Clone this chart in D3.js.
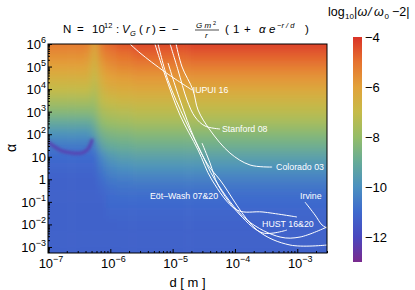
<!DOCTYPE html>
<html>
<head>
<meta charset="utf-8">
<script src="https://cdn.jsdelivr.net/npm/d3@7"></script>
<style>
  body { margin: 0; background: #fff; }
  text { font-family: "Liberation Sans", Arial, sans-serif; }
</style>
</head>
<body>
<svg id="chart" width="415" height="290"></svg>
<script>
// heat map: log10|w/w0 - 2|
// columns are log10 d, rows are log10 alpha
var gridLogD = [-7, -6.75, -6.5, -6.35, -6.25, -6.15, -6.0, -5.8, -5.5, -4.0];
var gridLogAlpha = [6.5, 6, 5.5, 5, 4.5, 4, 3.5, 3, 2.5, 2, 1.5, 1, 0.5, 0, -0.5, -1, -1.5, -2, -2.5, -3, -3.5];
var gridValues = [
  [-4.9, -4.9, -4.9, -5.0, -6.0, -4.8, -4.5, -4.2, -4.0, -3.9],
  [-5.2, -5.2, -5.2, -5.3, -6.2, -5.1, -4.8, -4.5, -4.3, -4.2],
  [-5.6, -5.6, -5.6, -5.7, -6.5, -5.5, -5.2, -5.0, -4.8, -4.7],
  [-6.0, -6.0, -6.0, -6.1, -6.8, -5.9, -5.6, -5.4, -5.3, -5.2],
  [-6.5, -6.5, -6.5, -6.5, -7.1, -6.3, -6.0, -5.9, -5.8, -5.7],
  [-7.0, -7.0, -7.0, -7.0, -7.4, -6.7, -6.4, -6.3, -6.2, -6.2],
  [-7.6, -7.6, -7.6, -7.6, -7.8, -7.1, -6.9, -6.8, -6.7, -6.7],
  [-8.3, -8.3, -8.3, -8.3, -8.2, -7.6, -7.4, -7.3, -7.2, -7.2],
  [-9.1, -9.1, -9.1, -9.1, -8.8, -8.1, -7.9, -7.8, -7.7, -7.7],
  [-9.9, -9.9, -9.9, -9.9, -9.4, -8.7, -8.5, -8.4, -8.3, -8.3],
  [-10.6, -10.6, -10.6, -10.6, -10.5, -9.3, -9.0, -8.9, -8.8, -8.8],
  [-11.0, -11.0, -11.0, -11.0, -11.0, -10.2, -9.7, -9.5, -9.4, -9.4],
  [-11.1, -11.1, -11.1, -11.1, -11.1, -10.6, -10.2, -10.0, -9.9, -9.9],
  [-11.2, -11.2, -11.2, -11.2, -11.2, -10.9, -10.6, -10.5, -10.4, -10.4],
  [-11.2, -11.2, -11.2, -11.2, -11.2, -11.1, -10.9, -10.8, -10.8, -10.8],
  [-11.2, -11.2, -11.2, -11.2, -11.2, -11.2, -11.0, -11.0, -11.0, -11.0],
  [-11.2, -11.2, -11.2, -11.2, -11.2, -11.2, -11.1, -11.1, -11.1, -11.1],
  [-11.2, -11.2, -11.2, -11.2, -11.2, -11.2, -11.2, -11.15, -11.15, -11.15],
  [-11.2, -11.2, -11.2, -11.2, -11.2, -11.2, -11.2, -11.2, -11.2, -11.2],
  [-11.2, -11.2, -11.2, -11.2, -11.2, -11.2, -11.2, -11.2, -11.2, -11.2],
  [-11.2, -11.2, -11.2, -11.2, -11.2, -11.2, -11.2, -11.2, -11.2, -11.2]
];

// the narrow purple dip on the left (d, alpha), value along it
var dipCurve = [[1.0e-7, 44.7], [1.29e-7, 27], [1.68e-7, 18], [2.43e-7, 14.7], [3.51e-7, 14.7], [4.39e-7, 22], [5.08e-7, 55]];
var dipValue = -12.3;

// experimental bounds, (d [m], alpha)
var iupui16 = [[2.07e-6, 1e6], [3.0e-6, 4.0e5], [7.55e-6, 5.7e4], [2.05e-5, 9.1e3]];
var eotWash07 = [[5.2e-6, 1e6], [7.55e-6, 4.2e4], [1.31e-5, 710], [2.56e-5, 19.9], [4.28e-5, 0.93], [1.08e-4, 0.0435], [2.82e-4, 0.0355], [9.9e-4, 0.0213]];
var eotWash20 = [[5.83e-6, 1e6], [8.43e-6, 2.5e4], [1.58e-5, 427], [2.75e-5, 19.9], [4.8e-5, 0.93], [1.56e-4, 0.0157], [5.3e-4, 2.76e-3], [1.11e-3, 2.76e-3], [3.0e-3, 7.7e-3]];
var hust16 = [[8.43e-6, 1.44e5], [1.31e-5, 3290], [2.29e-5, 55], [3.7e-5, 4.3], [5.77e-5, 0.93], [2.26e-4, 5.65e-3], [7.65e-4, 1.22e-3], [3.0e-3, 1.22e-3]];
var hust20 = [[2.96e-5, 40.7], [3.98e-5, 5.3], [5.36e-5, 0.56], [1.21e-4, 0.0261], [2.82e-4, 4.16e-3], [6.85e-4, 5.65e-3]];
var stanford08 = [[9.1e-6, 1e6], [1.22e-5, 7.0e4], [1.70e-5, 3290], [2.29e-5, 580], [3.31e-5, 231], [5.77e-5, 170]];
var colorado03 = [[1.135e-5, 1e6], [1.42e-5, 9.5e4], [2.12e-5, 9.1e3], [2.56e-5, 1180], [3.98e-5, 153], [8.3e-5, 14.7], [1.75e-4, 4.3], [3.95e-4, 3.5]];
var irvine = [[1.33e-3, 0.098], [1.93e-3, 0.026], [2.5e-3, 9.4e-3], [3.0e-3, 6.9e-3]];
var bounds = [iupui16, eotWash07, eotWash20, hust16, hust20, stanford08, colorado03, irvine];

// curve labels, left end of baseline (d, alpha)
var labelTexts = ["IUPUI 16", "Stanford 08", "Colorado 03", "Eöt\u2013Wash 07&20", "Irvine", "HUST 16&20"];
var labelSpots = [[2.1e-5, 6.7e3], [6.2e-5, 125], [4.57e-4, 2.6], [4.33e-6, 0.134], [1.11e-3, 0.134], [2.72e-4, 7.7e-3]];

// axes
var xTicks = [1e-7, 1e-6, 1e-5, 1e-4, 1e-3];
var xTickExp = ["\u22127", "\u22126", "\u22125", "\u22124", "\u22123"];
var yTicks = [1e6, 1e5, 1e4, 1e3, 1e2, 10, 1, 0.1, 0.01, 0.001];
var yTickBase = ["10", "10", "10", "10", "10", "10", "1", "10", "10", "10"];
var yTickExp = ["6", "5", "4", "3", "2", "", "", "\u22121", "\u22122", "\u22123"];

// colour bar
var colorDomain = [-13, -12, -11, -10, -9, -8, -7, -6, -5, -4];
var colorRange = ["#7a2a8e", "#4a48bf", "#3e69cd", "#4b90c0", "#66ab98", "#95bd68", "#c6bb48", "#e2a23a", "#e6722f", "#da3328"];
var barTicks = [-4, -6, -8, -10, -12];

var svg = d3.select("#chart");
var plotL = 48, plotR = 327, plotT = 44, plotB = 253;

var x = d3.scaleLog().domain([1e-7, 3e-3]).range([plotL, plotR]);
var y = d3.scaleLog().domain([5.4e-4, 1e6]).range([plotB, plotT]);
var color = d3.scaleLinear().domain(colorDomain).range(colorRange).clamp(true);

var defs = svg.append("defs");
defs.append("clipPath").attr("id", "plotclip")
  .append("rect").attr("x", plotL).attr("y", plotT).attr("width", plotR - plotL).attr("height", plotB - plotT);
var blur = defs.append("filter").attr("id", "smooth")
  .attr("x", "-10%").attr("y", "-10%").attr("width", "120%").attr("height", "120%");
blur.append("feGaussianBlur").attr("stdDeviation", "3 5");
var blurDip = defs.append("filter").attr("id", "soft")
  .attr("x", "-20%").attr("y", "-50%").attr("width", "140%").attr("height", "200%");
blurDip.append("feGaussianBlur").attr("stdDeviation", "1.4");

// cells
var cells = [];
gridValues.forEach(function (row, i) {
  row.forEach(function (v, j) {
    var d0 = j === 0 ? -7.6 : (gridLogD[j - 1] + gridLogD[j]) / 2;
    var d1 = j === row.length - 1 ? -2 : (gridLogD[j] + gridLogD[j + 1]) / 2;
    var a0 = i === 0 ? 7.5 : gridLogAlpha[i] + 0.25;
    var a1 = i === gridValues.length - 1 ? -4.5 : gridLogAlpha[i] - 0.25;
    cells.push({ d0: Math.pow(10, d0), d1: Math.pow(10, d1), a0: Math.pow(10, a0), a1: Math.pow(10, a1), v: v });
  });
});

var plot = svg.append("g").attr("clip-path", "url(#plotclip)");
plot.append("g").attr("filter", "url(#smooth)")
  .selectAll("rect")
  .data(cells)
  .enter()
  .append("rect")
  .attr("x", function (d) { return x(d.d0); })
  .attr("y", function (d) { return y(d.a0); })
  .attr("width", function (d) { return x(d.d1) - x(d.d0) + 0.5; })
  .attr("height", function (d) { return y(d.a1) - y(d.a0) + 0.5; })
  .style("fill", function (d) { return color(d.v); });

var line = d3.line()
  .x(function (d) { return x(d[0]); })
  .y(function (d) { return y(d[1]); })
  .curve(d3.curveCatmullRom.alpha(0.5));

plot.append("path")
  .datum(dipCurve)
  .attr("d", line)
  .attr("filter", "url(#soft)")
  .style("fill", "none")
  .style("stroke", color(dipValue))
  .style("stroke-width", 3.2)
  .style("stroke-linecap", "round");

plot.selectAll("path.bound")
  .data(bounds)
  .enter()
  .append("path")
  .attr("class", "bound")
  .attr("d", line)
  .style("fill", "none")
  .style("stroke", "white")
  .style("stroke-width", 1);

plot.selectAll("text.lab")
  .data(labelTexts)
  .enter()
  .append("text")
  .attr("class", "lab")
  .attr("x", function (d, i) { return x(labelSpots[i][0]); })
  .attr("y", function (d, i) { return y(labelSpots[i][1]); })
  .style("fill", "white")
  .style("font-size", "8.8px")
  .text(function (d) { return d; });

// frame
svg.append("rect")
  .attr("x", plotL).attr("y", plotT).attr("width", plotR - plotL).attr("height", plotB - plotT)
  .style("fill", "none").style("stroke", "black").style("stroke-width", 1);

// minor tick values, 2..9 per decade
function minors(lo, hi) {
  var out = [];
  for (var e = lo; e <= hi; e++) {
    for (var k = 2; k <= 9; k++) out.push(k * Math.pow(10, e));
  }
  return out;
}
var xMinor = minors(-7, -3).filter(function (v) { return v <= 3e-3; });
var yMinor = minors(-4, 5).filter(function (v) { return v >= 5.4e-4 && v <= 1e6; });

function tickGroup(axis, transform) {
  var g = svg.append("g").attr("transform", transform).call(axis);
  g.select(".domain").remove();
  g.selectAll("text").remove();
  g.selectAll("line").style("stroke", "black");
  return g;
}
tickGroup(d3.axisBottom(x).tickValues(xTicks).tickSize(-4), "translate(0," + plotB + ")");
tickGroup(d3.axisBottom(x).tickValues(xMinor).tickSize(-2), "translate(0," + plotB + ")");
tickGroup(d3.axisLeft(y).tickValues(yTicks).tickSize(-4), "translate(" + plotL + ",0)");
tickGroup(d3.axisLeft(y).tickValues(yMinor).tickSize(-2), "translate(" + plotL + ",0)");

// tick labels
var xl = svg.selectAll("text.xt")
  .data(xTicks)
  .enter()
  .append("text")
  .attr("class", "xt")
  .attr("x", function (d) { return x(d) + 3; })
  .attr("y", 268)
  .attr("text-anchor", "middle")
  .style("font-size", "13px");
xl.append("tspan").text("10");
xl.append("tspan").attr("dy", -6).style("font-size", "9px").text(function (d, i) { return xTickExp[i]; });

var yl = svg.selectAll("text.yt")
  .data(yTicks)
  .enter()
  .append("text")
  .attr("class", "yt")
  .attr("x", 46)
  .attr("y", function (d) { return y(d) + 5; })
  .attr("text-anchor", "end")
  .style("font-size", "13px");
yl.append("tspan").text(function (d, i) { return yTickBase[i]; });
yl.append("tspan").attr("dy", -6).style("font-size", "9px").text(function (d, i) { return yTickExp[i]; });

svg.append("text")
  .attr("x", (plotL + plotR) / 2).attr("y", 287)
  .attr("text-anchor", "middle")
  .style("font-size", "13px")
  .text("d [ m ]");

svg.append("text")
  .attr("transform", "translate(16,148) rotate(-90)")
  .attr("text-anchor", "middle")
  .style("font-size", "14px")
  .text("\u03b1");

// title and bar heading, token by token
function tokens(list, size) {
  svg.append("g").selectAll("text")
    .data(list)
    .enter()
    .append("text")
    .attr("x", function (d) { return d[1]; })
    .attr("y", function (d) { return d[2]; })
    .style("font-size", function (d) { return (d[3] || size) + "px"; })
    .style("font-style", function (d) { return d[4] ? "italic" : "normal"; })
    .text(function (d) { return d[0]; });
}
tokens([
  ["N", 63, 33], ["=", 77, 33], ["10", 92, 33], ["12", 104, 28, 7.5], [":", 116, 33],
  ["V", 122, 33, 0, 1], ["G", 130, 36, 7.5, 1], ["(", 139, 33], ["r", 146, 33, 0, 1], [")", 152, 33],
  ["=", 159, 33], ["\u2212", 172, 33],
  ["G m", 196, 28, 8, 1], ["2", 213, 24.5, 5.5, 0], ["r", 205, 38, 8, 1],
  ["(", 225, 33], ["1", 233, 33], ["+", 244, 33], ["\u03b1", 259, 33, 0, 1], ["e", 269, 33, 0, 1],
  ["\u2212r / d", 277, 28, 7.5, 1], [")", 305, 33]
], 11.5);
svg.append("line").attr("x1", 195).attr("x2", 219).attr("y1", 30).attr("y2", 30)
  .style("stroke", "black").style("stroke-width", 0.7);

tokens([
  ["log", 328, 16], ["10", 345, 19, 8], ["|", 354, 16], ["\u03c9", 357.5, 16, 0, 1], ["/", 368, 16, 0, 1],
  ["\u03c9", 374, 16, 0, 1], ["0", 384.5, 19, 8], ["\u22122|", 392, 16]
], 12.5);

// colour bar
var barX = 353, barW = 9;
var barScale = d3.scaleLinear().domain([-13, -4]).range([262, 37]);
var grad = defs.append("linearGradient").attr("id", "bargrad")
  .attr("x1", 0).attr("y1", 1).attr("x2", 0).attr("y2", 0);
grad.selectAll("stop")
  .data(colorDomain)
  .enter()
  .append("stop")
  .attr("offset", function (d) { return (d + 13) / 9; })
  .attr("stop-color", function (d) { return color(d); });
svg.append("rect")
  .attr("x", barX).attr("y", barScale(-4)).attr("width", barW).attr("height", barScale(-13) - barScale(-4))
  .style("fill", "url(#bargrad)");
svg.selectAll("text.bt")
  .data(barTicks)
  .enter()
  .append("text")
  .attr("class", "bt")
  .attr("x", barX + barW + 3)
  .attr("y", function (d) { return barScale(d) + 5; })
  .style("font-size", "13px")
  .text(function (d) { return "\u2212" + Math.abs(d); });
</script>
</body>
</html>
